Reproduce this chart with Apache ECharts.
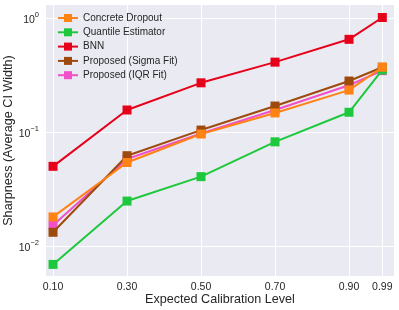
<!DOCTYPE html>
<html><head><meta charset="utf-8">
<script src="https://cdn.jsdelivr.net/npm/echarts@6/dist/echarts.min.js"></script>
<style>html,body{margin:0;padding:0;background:#fff}#c{width:399px;height:310px}</style>
</head><body><div id="c"></div>
<script>
var levels = [0.10, 0.30, 0.50, 0.70, 0.90, 0.99];
var tickLabels = ['0.10', '0.30', '0.50', '0.70', '0.90', '0.99'];
var yTicks = [0.01, 0.1, 1];
var concreteDropout = [0.018, 0.054, 0.096, 0.147, 0.233, 0.37];
var quantileEstimator = [0.0069, 0.0248, 0.0406, 0.082, 0.149, 0.35];
var bnn = [0.050, 0.156, 0.27, 0.41, 0.65, 1.01];
var sigmaFit = [0.0132, 0.062, 0.104, 0.169, 0.28, 0.37];
var iqrFit = [0.0152, 0.058, 0.097, 0.156, 0.257, 0.345];

var names = ['Concrete Dropout', 'Quantile Estimator', 'BNN', 'Proposed (Sigma Fit)', 'Proposed (IQR Fit)'];
var values = [concreteDropout, quantileEstimator, bnn, sigmaFit, iqrFit];
var colors = ['#ff8214', '#1ec83c', '#e6001a', '#9e4a0c', '#f050c8'];
var font = 'Liberation Sans';

function pairs(v){ return levels.map(function(x,i){ return [x, v[i]]; }); }

var series = names.map(function(n,i){
  return {
    name: n, type: 'line', data: pairs(values[i]),
    symbol: 'rect', symbolSize: 9,
    lineStyle: {width: 2, color: colors[i]},
    itemStyle: {color: colors[i]},
    z: 10 - i
  };
});

var chart = echarts.init(document.getElementById('c'), null, {renderer: 'canvas'});
chart.setOption({
  animation: false,
  backgroundColor: '#fff',
  grid: {left: 46, right: 5, top: 5, bottom: 34, containLabel: false, outerBoundsMode: 'none',
         show: true, backgroundColor: '#eaeaf2', borderWidth: 0},
  legend: {
    orient: 'vertical', left: 52, top: 8, itemGap: 4.3,
    itemWidth: 20, itemHeight: 10,
    textStyle: {fontFamily: font, fontSize: 10, lineHeight: 10, color: '#262626'},
    data: names
  },
  xAxis: {
    type: 'value', min: 0.081, max: 1.0216,
    name: 'Expected Calibration Level', nameLocation: 'middle', nameGap: 17, nameMoveOverlap: false,
    nameTextStyle: {fontFamily: font, fontSize: 12.6, color: '#262626', verticalAlign: 'top'},
    axisLine: {show: false},
    axisTick: {show: false, customValues: levels},
    splitLine: {show: true, lineStyle: {color: '#ffffff', width: 1}},
    axisLabel: {
      fontFamily: font, fontSize: 10.5, color: '#262626', margin: 6,
      showMinLabel: true, showMaxLabel: true,
      customValues: levels,
      formatter: function(v){ var i = levels.indexOf(v); return i >= 0 ? tickLabels[i] : ''; }
    }
  },
  yAxis: {
    type: 'log', logBase: 10, min: 0.00546, max: 1.3,
    name: 'Sharpness (Average CI Width)', nameLocation: 'middle', nameGap: 31, nameMoveOverlap: false,
    nameTextStyle: {fontFamily: font, fontSize: 12.6, color: '#262626'},
    axisLine: {show: false},
    axisTick: {show: false, customValues: yTicks},
    splitLine: {show: true, lineStyle: {color: '#ffffff', width: 1}},
    axisLabel: {
      fontFamily: font, color: '#262626', margin: 7,
      showMinLabel: true, showMaxLabel: true,
      customValues: yTicks,
      formatter: function(v){
        var e = Math.round(Math.log10(v));
        if (Math.abs(Math.log10(v) - e) > 1e-6) return '';
        return '{b|10}{s|' + (e < 0 ? '\u2212' + (-e) : e) + '}';
      },
      rich: {
        b: {fontFamily: font, fontSize: 10.5, color: '#262626', padding: [4,0,0,0]},
        s: {fontFamily: font, fontSize: 7.5, color: '#262626', verticalAlign: 'top', padding: [0,0,4,0]}
      }
    }
  },
  series: series
});
</script></body></html>
